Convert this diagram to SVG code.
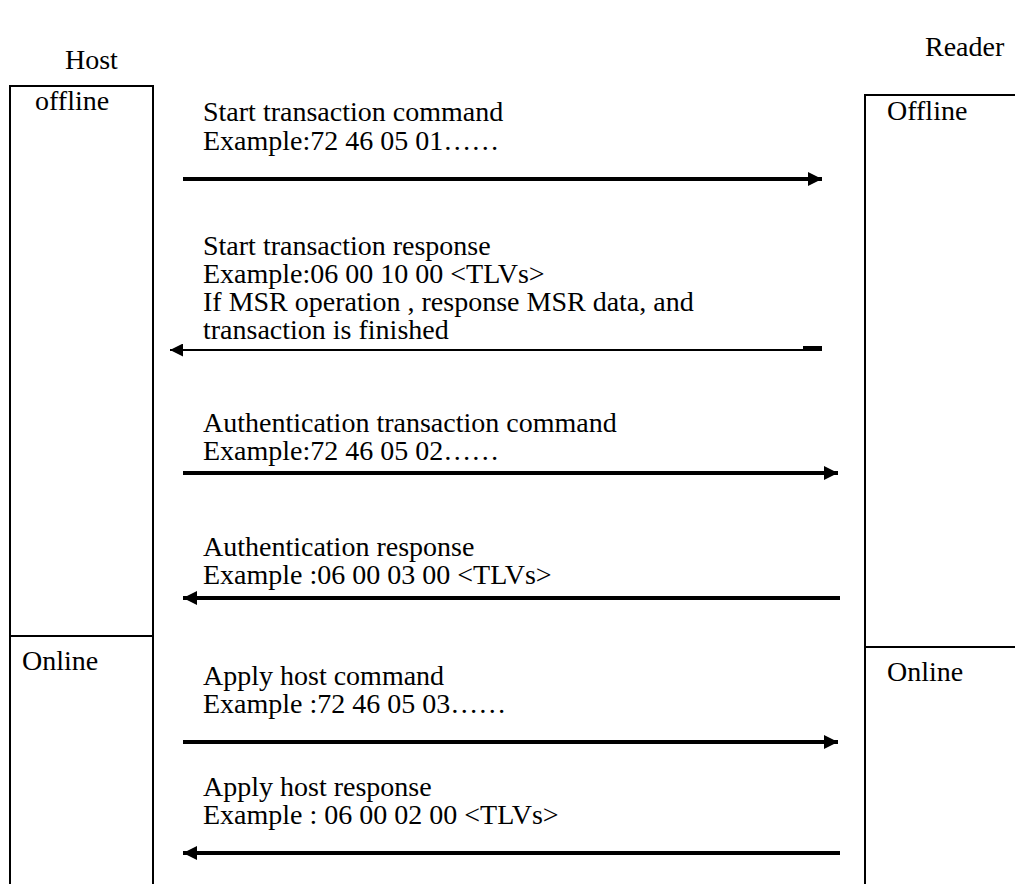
<svg xmlns="http://www.w3.org/2000/svg" width="1015" height="884" viewBox="0 0 1015 884" font-family="'Liberation Serif', 'Times New Roman', serif">
<style>
text{font-family:"Liberation Serif","Times New Roman",serif;font-size:28px;fill:#000}
.box{fill:none;stroke:#000;stroke-width:2}
.thick{stroke:#000;stroke-width:4;fill:none}
.thin{stroke:#000;stroke-width:2;fill:none}
</style>
<defs>
<marker id="ah" viewBox="0 0 10 10" refX="10" refY="5" markerWidth="4" markerHeight="3.5" orient="auto" markerUnits="strokeWidth"><path d="M0,0 L10,5 L0,10 z" fill="#000"/></marker>
<marker id="ahs" viewBox="0 0 10 10" refX="10" refY="5" markerWidth="8" markerHeight="6.5" orient="auto" markerUnits="strokeWidth"><path d="M0,0 L10,5 L0,10 z" fill="#000"/></marker>
</defs>
<g id="host-label"><text x="65" y="69">Host</text></g>
<g id="reader-label"><text x="925" y="56">Reader</text></g>
<g id="host-offline"><path class="box" d="M10,884 V86 H153 V884"/><text x="35" y="110">offline</text></g>
<g id="host-online"><line class="box" x1="10" y1="636" x2="153" y2="636"/><text x="22" y="670">Online</text></g>
<g id="reader-offline"><path class="box" d="M1016,95 H865 V884"/><text x="887" y="120">Offline</text></g>
<g id="reader-online"><line class="box" x1="865" y1="647" x2="1016" y2="647"/><text x="887" y="681">Online</text></g>
<g id="connectors">
<line class="thick" x1="183" y1="179" x2="822" y2="179" marker-end="url(#ah)"/>
<line class="thin" x1="822" y1="350" x2="170" y2="350" marker-end="url(#ahs)"/>
<rect x="803" y="346" width="19" height="5" fill="#000"/>
<line class="thick" x1="183" y1="473" x2="838" y2="473" marker-end="url(#ah)"/>
<line class="thick" x1="840" y1="598" x2="183" y2="598" marker-end="url(#ah)"/>
<line class="thick" x1="183" y1="742" x2="838" y2="742" marker-end="url(#ah)"/>
<line class="thick" x1="840" y1="853" x2="183" y2="853" marker-end="url(#ah)"/>
</g>
<g id="labels">
<text x="203" y="121">Start transaction command</text>
<text x="203" y="150">Example:72 46 05 01……</text>
<text x="203" y="255">Start transaction response</text>
<text x="203" y="283">Example:06 00 10 00 &lt;TLVs&gt;</text>
<text x="203" y="311">If MSR operation , response MSR data, and</text>
<text x="203" y="339">transaction is finished</text>
<text x="203" y="432">Authentication transaction command</text>
<text x="203" y="460">Example:72 46 05 02……</text>
<text x="203" y="556">Authentication response</text>
<text x="203" y="584">Example :06 00 03 00 &lt;TLVs&gt;</text>
<text x="203" y="685">Apply host command</text>
<text x="203" y="713">Example :72 46 05 03……</text>
<text x="203" y="796">Apply host response</text>
<text x="203" y="824">Example : 06 00 02 00 &lt;TLVs&gt;</text>
</g>
</svg>
